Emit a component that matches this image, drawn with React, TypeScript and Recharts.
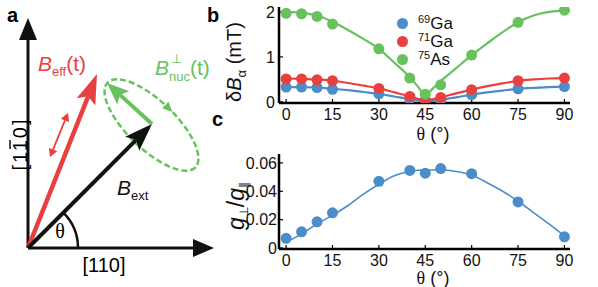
import React from "react";
import { ComposedChart, Line, Scatter, XAxis, YAxis } from "recharts";

// measured points (theta in degrees)
const thetaPts = [0, 5, 10, 15, 30, 40, 45, 50, 60, 75, 90];
const ga69Pts = [0.33, 0.33, 0.32, 0.28, 0.18, 0.06, 0.03, 0.04, 0.16, 0.29, 0.34];
const ga71Pts = [0.51, 0.51, 0.49, 0.47, 0.3, 0.12, 0.04, 0.1, 0.27, 0.47, 0.53];
const as75Pts = [1.97, 1.96, 1.9, 1.73, 1.18, 0.53, 0.17, 0.38, 1.04, 1.77, 2.04];
const gRatioPts = [0.0068, 0.0114, 0.0185, 0.0248, 0.047, 0.0547, 0.0528, 0.056, 0.0524, 0.0325, 0.0079];

// fit curves
const thetaFit = [0, 5, 10, 15, 20, 25, 30, 35, 40, 42.5, 45, 47.5, 50, 55, 60, 65, 70, 75, 80, 85, 90];
const ga69Fit = [0.33, 0.33, 0.32, 0.29, 0.26, 0.22, 0.18, 0.12, 0.06, 0.04, 0.02, 0.03, 0.05, 0.1, 0.16, 0.21, 0.25, 0.29, 0.31, 0.33, 0.34];
const ga71Fit = [0.52, 0.51, 0.5, 0.47, 0.42, 0.36, 0.3, 0.21, 0.12, 0.07, 0.03, 0.06, 0.1, 0.19, 0.27, 0.35, 0.41, 0.47, 0.5, 0.52, 0.53];
const as75Fit = [2.0, 1.98, 1.92, 1.78, 1.6, 1.4, 1.18, 0.87, 0.55, 0.35, 0.15, 0.3, 0.46, 0.75, 1.04, 1.3, 1.55, 1.77, 1.92, 2.0, 2.03];
const gRatioFit = [0.004, 0.01, 0.017, 0.023, 0.03, 0.038, 0.045, 0.051, 0.054, 0.0548, 0.055, 0.055, 0.055, 0.054, 0.0515, 0.046, 0.04, 0.033, 0.025, 0.017, 0.0085];

const thetaTicks = [0, 15, 30, 45, 60, 75, 90];
const dBTicks = [0, 1, 2];
const gTicks = [0, 0.02, 0.04, 0.06];

const BLUE = "#4b8dc8";
const RED = "#e8403f";
const GREEN = "#67c15d";
const SANS = "Liberation Sans, Arial, sans-serif";
const SERIF = "Liberation Serif, serif";

const ptsB = thetaPts.map((x, i) => ({ x, ga69: ga69Pts[i], ga71: ga71Pts[i], as75: as75Pts[i] }));
const fitB = thetaFit.map((x, i) => ({ x, ga69: ga69Fit[i], ga71: ga71Fit[i], as75: as75Fit[i] }));
const ptsC = thetaPts.map((x, i) => ({ x, g: gRatioPts[i] }));
const fitC = thetaFit.map((x, i) => ({ x, g: gRatioFit[i] }));

const xDomain: [number, number] = [-2.3, 91.8];
const axisLine = { stroke: "#000", strokeWidth: 2.5 };
const tickLine = { stroke: "#000", strokeWidth: 1.2 };
const tickFont = { fontSize: 16, fill: "#111", fontFamily: SANS };

const dot = (color: string) => (p: any) => <circle cx={p.cx} cy={p.cy} r={5.5} fill={color} />;

function ThetaTitle(props: any) {
  return (
    <text x={props.px} y={props.py} textAnchor="middle" fontSize={18} fill="#111" fontFamily={SANS}>
      <tspan fontFamily={SERIF}>θ</tspan>
      {" (°)"}
    </text>
  );
}

function DeltaBTitle(props: any) {
  const { px, py } = props;
  return (
    <text x={px} y={py} transform={`rotate(-90 ${px} ${py})`} textAnchor="middle" fontSize={20} fill="#111" fontFamily={SANS}>
      δ<tspan fontStyle="italic">B</tspan>
      <tspan fontSize={13} dy={5}>α</tspan>
      <tspan dy={-5}>{" (mT)"}</tspan>
    </text>
  );
}

function GRatioTitle(props: any) {
  const { px, py } = props;
  return (
    <text x={px} y={py} transform={`rotate(-90 ${px} ${py})`} textAnchor="middle" fontSize={23} fill="#111" fontFamily={SANS}>
      <tspan fontStyle="italic">g</tspan>
      <tspan fontSize={12} dy={4}>⊥</tspan>
      <tspan dy={-4}>/</tspan>
      <tspan fontStyle="italic">g</tspan>
      <tspan fontSize={12} dy={4}>∥</tspan>
    </text>
  );
}

function head(tx: number, ty: number, fx: number, fy: number, len: number, half: number, back = 0) {
  const L = Math.hypot(tx - fx, ty - fy);
  const ux = (tx - fx) / L;
  const uy = (ty - fy) / L;
  const bx = tx - ux * len;
  const by = ty - uy * len;
  const nx = tx - ux * len * (1 - back);
  const ny = ty - uy * len * (1 - back);
  return {
    pts: `${tx},${ty} ${bx - uy * half},${by + ux * half} ${nx},${ny} ${bx + uy * half},${by - ux * half}`,
    nx,
    ny,
  };
}

function Arrow({ fx, fy, tx, ty, len, half, back, color, w }: any) {
  const h = head(tx, ty, fx, fy, len, half, back);
  return (
    <g>
      <line x1={fx} y1={fy} x2={h.nx} y2={h.ny} stroke={color} strokeWidth={w} />
      <polygon points={h.pts} fill={color} />
    </g>
  );
}

function Diagram() {
  const ox = 28;
  const oy = 248;
  const ecx = 151.5;
  const ecy = 125;
  const dbl1 = head(50, 157, 68, 113, 8, 4.5);
  const dbl2 = head(68, 113, 50, 157, 8, 4.5);
  return (
    <svg width={220} height={287} style={{ position: "absolute", left: 0, top: 0 }}>
      <text x={7} y={22} fontSize={20} fontWeight="bold" fontFamily={SANS}>a</text>
      <Arrow fx={ox} fy={oy} tx={214} ty={oy} len={21} half={9} color="#111" w={3} />
      <Arrow fx={ox} fy={oy} tx={ox} ty={18} len={22} half={9} color="#111" w={3} />
      <path d="M78 248 A50 50 0 0 0 63.36 212.64" fill="none" stroke="#111" strokeWidth={2.5} />
      <text x={60} y={238} textAnchor="middle" fontSize={20} fontFamily={SERIF}>θ</text>
      <text x={104} y={272} textAnchor="middle" fontSize={20} fontFamily={SANS}>[110]</text>
      <g transform="translate(27 144) rotate(-90)">
        <text x={0} y={0} textAnchor="middle" fontSize={20} letterSpacing={2} fontFamily={SANS}>[110]</text>
        <line x1={-5} y1={-17} x2={4} y2={-17} stroke="#111" strokeWidth={1.5} />
      </g>
      <g transform={`rotate(44 ${ecx} ${ecy})`}>
        <ellipse cx={ecx} cy={ecy} rx={61} ry={24} fill="none" stroke={GREEN} strokeWidth={2.5} strokeDasharray="6 3" />
        <polygon points={`${ecx + 6},${ecy - 24} ${ecx - 4},${ecy - 28.5} ${ecx - 4},${ecy - 19.5}`} fill={GREEN} />
      </g>
      <Arrow fx={ox} fy={oy} tx={97} ty={74} len={30} half={10} back={0.2} color={RED} w={4.5} />
      <Arrow fx={ox} fy={oy} tx={152} ty={124} len={28} half={10} back={0.2} color="#111" w={4} />
      <Arrow fx={152} fy={124} tx={107} ty={83} len={22} half={9} back={0.2} color={GREEN} w={4} />
      <line x1={dbl2.nx} y1={dbl2.ny} x2={dbl1.nx} y2={dbl1.ny} stroke={RED} strokeWidth={1.8} />
      <polygon points={dbl1.pts} fill={RED} />
      <polygon points={dbl2.pts} fill={RED} />
      <text x={38} y={71} fontSize={21} fill={RED} fontFamily={SANS}>
        <tspan fontStyle="italic">B</tspan>
        <tspan fontSize={13} dy={5}>eff</tspan>
        <tspan dy={-5}>(t)</tspan>
      </text>
      <text x={155} y={75} fontSize={21} fill={GREEN} fontFamily={SANS}>
        <tspan fontStyle="italic">B</tspan>
        <tspan fontSize={13} dy={6}>nuc</tspan>
        <tspan dy={-6}>(t)</tspan>
      </text>
      <text x={171} y={63} fontSize={13} fill={GREEN} fontFamily={SANS}>⊥</text>
      <text x={117} y={195} fontSize={21} fill="#111" fontFamily={SANS}>
        <tspan fontStyle="italic">B</tspan>
        <tspan fontSize={13} dy={5}>ext</tspan>
      </text>
    </svg>
  );
}

const legendItems = [
  { mass: "69", name: "Ga", color: BLUE },
  { mass: "71", name: "Ga", color: RED },
  { mass: "75", name: "As", color: GREEN },
];

function IsotopeLegend() {
  return (
    <div style={{ position: "absolute", left: 397, top: 14, fontFamily: SANS }}>
      {legendItems.map((it) => (
        <div key={it.mass} style={{ display: "flex", alignItems: "center", height: 18 }}>
          <span style={{ width: 11, height: 11, borderRadius: 6, background: it.color, display: "inline-block" }} />
          <span style={{ marginLeft: 10, fontSize: 17, color: "#111", lineHeight: "17px" }}>
            <sup style={{ fontSize: 11, verticalAlign: 6, lineHeight: "11px" }}>{it.mass}</sup>
            {it.name}
          </span>
        </div>
      ))}
    </div>
  );
}

function FrameAxes({ yDomain, yTicks, fmt, xTitleY, yTitle, xh }: any) {
  return [
    <XAxis
      key="xb"
      xAxisId="b"
      dataKey="x"
      type="number"
      domain={xDomain}
      ticks={thetaTicks}
      interval={0}
      allowDataOverflow
      axisLine={axisLine}
      tickLine={tickLine}
      tickSize={-4}
      tickMargin={10}
      tick={tickFont}
      height={xh}
      label={<ThetaTitle px={213} py={xTitleY} />}
    />,
    <XAxis key="xt" xAxisId="t" orientation="top" type="number" domain={xDomain} ticks={thetaTicks} interval={0} allowDataOverflow mirror axisLine={axisLine} tickLine={tickLine} tickSize={4} tick={false} height={0} />,
    <YAxis
      key="yl"
      yAxisId="l"
      type="number"
      domain={yDomain}
      ticks={yTicks}
      interval={0}
      allowDataOverflow
      axisLine={axisLine}
      tickLine={tickLine}
      tickSize={-4}
      tickMargin={fmt ? 6 : 8}
      tick={tickFont}
      tickFormatter={fmt}
      width={59}
      label={yTitle}
    />,
    <YAxis key="yr" yAxisId="r" orientation="right" type="number" domain={yDomain} ticks={yTicks} interval={0} allowDataOverflow mirror axisLine={axisLine} tickLine={tickLine} tickSize={4} tick={false} width={0} />,
  ];
}

export default function App() {
  const gFmt = (v: number) => (v === 0 ? "0" : v.toFixed(2));
  return (
    <div style={{ position: "fixed", left: 0, top: 0, width: 598, height: 287, background: "#fff", overflow: "hidden", fontFamily: SANS }}>
      <Diagram />
      <div style={{ position: "absolute", left: 207, top: 4, fontSize: 20, fontWeight: "bold" }}>b</div>
      <div style={{ position: "absolute", left: 212, top: 108, fontSize: 20, fontWeight: "bold" }}>c</div>
      <div style={{ position: "absolute", left: 220, top: 0 }}>
        <ComposedChart width={355} height={145} margin={{ top: 7, right: 5, bottom: 0, left: 0 }}>
          {FrameAxes({ yDomain: [-0.025, 2.11], yTicks: dBTicks, xTitleY: 140, xh: 42, yTitle: <DeltaBTitle px={21} py={62} /> })}
          <Line xAxisId="b" yAxisId="l" data={fitB} dataKey="ga69" type="monotone" stroke={BLUE} strokeWidth={2.2} dot={false} isAnimationActive={false} />
          <Line xAxisId="b" yAxisId="l" data={fitB} dataKey="ga71" type="monotone" stroke={RED} strokeWidth={2.2} dot={false} isAnimationActive={false} />
          <Line xAxisId="b" yAxisId="l" data={fitB} dataKey="as75" type="monotone" stroke={GREEN} strokeWidth={2.2} dot={false} isAnimationActive={false} />
          <Scatter xAxisId="b" yAxisId="l" data={ptsB} dataKey="ga69" shape={dot(BLUE)} isAnimationActive={false} />
          <Scatter xAxisId="b" yAxisId="l" data={ptsB} dataKey="ga71" shape={dot(RED)} isAnimationActive={false} />
          <Scatter xAxisId="b" yAxisId="l" data={ptsB} dataKey="as75" shape={dot(GREEN)} isAnimationActive={false} />
        </ComposedChart>
      </div>
      <IsotopeLegend />
      <div style={{ position: "absolute", left: 220, top: 140 }}>
        <ComposedChart width={355} height={147} margin={{ top: 14, right: 5, bottom: 0, left: 0 }}>
          {FrameAxes({ yDomain: [-0.0007, 0.0663], yTicks: gTicks, fmt: gFmt, xTitleY: 144, xh: 38, yTitle: <GRatioTitle px={24} py={66} /> })}
          <Line xAxisId="b" yAxisId="l" data={fitC} dataKey="g" type="monotone" stroke={BLUE} strokeWidth={1.6} dot={false} isAnimationActive={false} />
          <Scatter xAxisId="b" yAxisId="l" data={ptsC} dataKey="g" shape={dot(BLUE)} isAnimationActive={false} />
        </ComposedChart>
      </div>
    </div>
  );
}
